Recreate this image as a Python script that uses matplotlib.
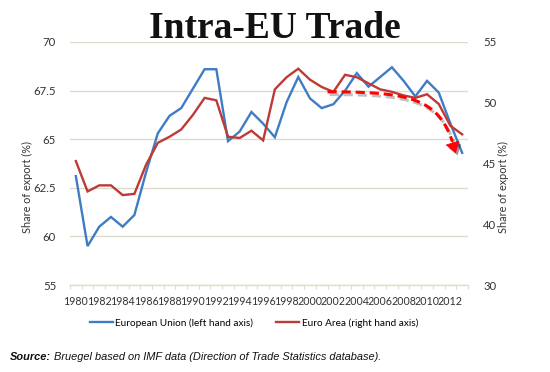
import numpy as np
import matplotlib.pyplot as plt
import matplotlib.patheffects as pe

years = list(range(1980, 2014))
# European Union, share of exports (%), left axis
eu = [63.1, 59.5, 60.5, 61.0, 60.5, 61.1, 63.3, 65.3, 66.2, 66.6, 67.6, 68.6,
      68.6, 64.9, 65.4, 66.4, 65.8, 65.1, 66.9, 68.2, 67.1, 66.6, 66.8, 67.5,
      68.4, 67.7, 68.2, 68.7, 68.0, 67.2, 68.0, 67.4, 65.8, 64.3]
# Euro Area, share of exports (%), right axis
ea = [45.2, 42.7, 43.2, 43.2, 42.4, 42.5, 44.9, 46.7, 47.2, 47.8, 49.0, 50.4,
      50.2, 47.2, 47.1, 47.7, 46.9, 51.1, 52.1, 52.8, 51.9, 51.3, 50.9, 52.3,
      52.1, 51.6, 51.1, 50.9, 50.6, 50.4, 50.7, 49.9, 48.1, 47.4]

left_ticks = [57.5, 60, 62.5, 65, 67.5, 70]
left_labels = ["55", "60", "62.5", "65", "67.5", "70"]
right_ticks = [35, 40, 45, 50, 55]
right_labels = ["30", "40", "45", "50", "55"]

blue = "#3f7cc4"
red = "#be3a36"
grid_c = "#dedccb"
txt_c = "#333333"
font = "Lato"

fig = plt.figure(figsize=(5.5, 3.72), dpi=100)
ax = fig.add_axes([70 / 550, 1 - 285 / 372, 398 / 550, 243 / 372])
ax2 = ax.twinx()

l1, = ax.plot(years, eu, color=blue, lw=1.7, solid_joinstyle="miter")
l2, = ax2.plot(years, ea, color=red, lw=1.7, solid_joinstyle="miter")

ax.set_xlim(1979.5, 2013.5)
ax.set_ylim(57.5, 70)
ax2.set_ylim(35, 55)

ax.set_yticks(left_ticks)
ax.set_yticklabels(left_labels)
ax2.set_yticks(right_ticks)
ax2.set_yticklabels(right_labels)
ax.set_xticks(years[::2])
ax.set_xticklabels([str(y) for y in years[::2]])
ax.set_xticks(np.arange(1979.5, 2014, 1), minor=True)

ax.grid(axis="y", color=grid_c, lw=1.0)
ax.set_axisbelow(True)
for a in (ax, ax2):
    for s in ["top", "left", "right", "bottom"]:
        a.spines[s].set_visible(False)
ax.spines["bottom"].set_visible(True)
ax.spines["bottom"].set_color(grid_c)
ax.spines["bottom"].set_linewidth(1.0)

ax.tick_params(axis="x", which="major", length=0, pad=8, labelsize=7.7,
               labelcolor=txt_c)
ax.tick_params(axis="x", which="minor", length=3, color=grid_c, width=0.8)
ax.tick_params(axis="y", length=0, pad=10, labelsize=8.2, labelcolor=txt_c)
ax2.tick_params(axis="y", length=0, pad=11, labelsize=8.2, labelcolor=txt_c)
for lab in ax.get_xticklabels() + ax.get_yticklabels() + ax2.get_yticklabels():
    lab.set_family(font)

fig.text(27 / 550, 1 - 187 / 372, "Share of export (%)", rotation=90,
         ha="center", va="center", fontsize=7.8, family=font, color=txt_c)
fig.text(503 / 550, 1 - 187 / 372, "Share of export (%)", rotation=90,
         ha="center", va="center", fontsize=7.8, family=font, color=txt_c)

# trend arrow
t = np.linspace(0, 1, 80)[:, None]
p0, p1, p2, p3 = (np.array(p) for p in [(2001.5, 50.9), (2009.0, 50.9),
                                        (2011.3, 50.3), (2012.45, 45.85)])
bez = (1 - t) ** 3 * p0 + 3 * (1 - t) ** 2 * t * p1 + 3 * (1 - t) * t ** 2 * p2 + t ** 3 * p3
shadow = [pe.SimpleLineShadow(offset=(1.5, -2), shadow_color="#777777", alpha=0.45),
          pe.Normal()]
ax2.plot(bez[:-6, 0], bez[:-6, 1], color="#ff0000", lw=2.2, dashes=(3, 1.6),
         path_effects=shadow, zorder=5)
ax2.annotate("", xy=tuple(p3), xytext=tuple(bez[-9]),
             arrowprops=dict(arrowstyle="-|>,head_length=0.6,head_width=0.4",
                             color="#ff0000", lw=0.5,
                             mutation_scale=12, shrinkA=0, shrinkB=0,
                             path_effects=[pe.SimplePatchShadow(offset=(1.5, -2),
                                                                alpha=0.45),
                                           pe.Normal()]),
             zorder=5)

fig.text(0.5, 1 - 38 / 372, "Intra-EU Trade", ha="center", va="baseline",
         fontsize=27, family="Liberation Serif", fontweight="bold", color="#111111")

fig.legend([l1, l2], ["European Union (left hand axis)", "Euro Area (right hand axis)"],
           loc="center", bbox_to_anchor=(254 / 550, 1 - 323 / 372), ncol=2,
           frameon=False, handlelength=2.3, columnspacing=2.3, handletextpad=0.25,
           prop={"family": font, "size": 7.2})

src = fig.text(10 / 550, 1 - 360 / 372, "Source:", fontsize=7.9,
               family="Liberation Sans", style="italic", fontweight="bold",
               va="baseline", color="#111111")
fig.canvas.draw()
x1 = fig.transFigure.inverted().transform(
    (src.get_window_extent().x1 + 3, 0))[0]
fig.text(x1, 1 - 360 / 372,
         "Bruegel based on IMF data (Direction of Trade Statistics database).",
         fontsize=7.9, family="Liberation Sans", style="italic", va="baseline",
         color="#111111")

fig.savefig("out.png", dpi=100)
